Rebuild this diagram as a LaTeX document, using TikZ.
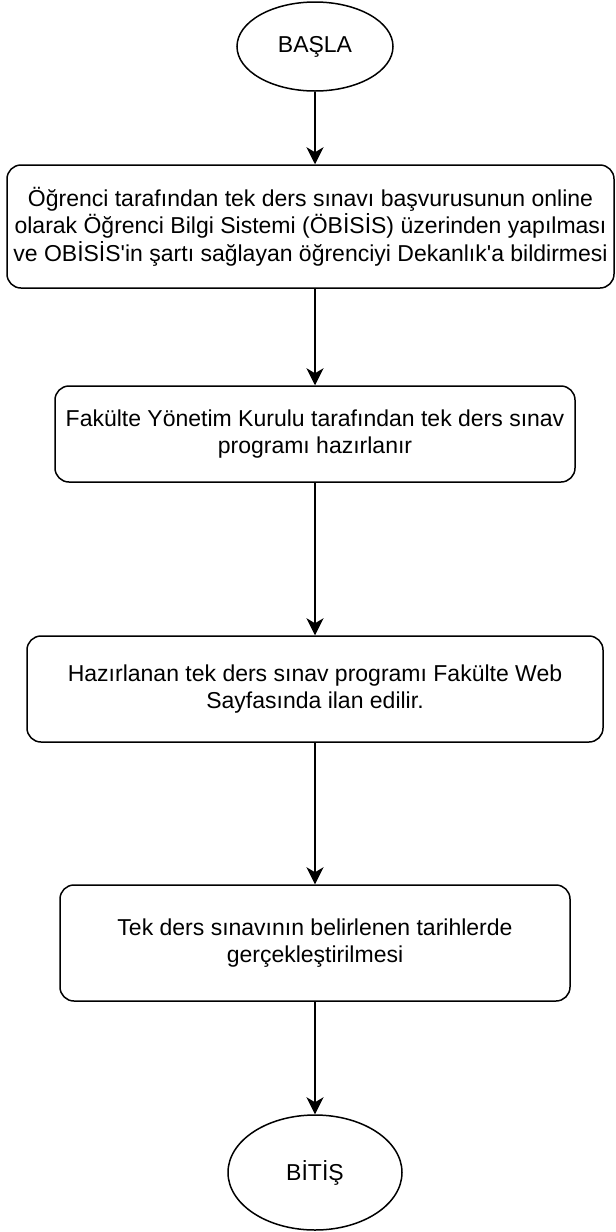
\documentclass[tikz,border=0pt]{standalone}
\usepackage{fontspec}
\setmainfont{Liberation Sans}
\usepackage{tikz}
\usetikzlibrary{arrows.meta,shapes,calc}
\tikzstyle{term}=[ellipse, draw, line width=1.5pt,% start and end
inner sep=0pt, font=\fontsize{23}{27.5}\selectfont]
\tikzstyle{islem}=[rectangle, draw, rounded corners=14pt, line width=1.5pt,% a step box
align=center, inner sep=0pt, font=\fontsize{23}{27.5}\selectfont]
\tikzstyle{akis}=[-{Stealth[length=17pt,width=17pt,inset=5pt]}, line width=1.5pt]

\begin{document}
\begin{tikzpicture}[x=1pt,y=-1pt]
\useasboundingbox (0,0) rectangle (616,1232);
\node[term, minimum width=156pt, minimum height=89pt] (bas) at (315,46.5) {BAŞLA};
\node[islem, minimum width=607pt, minimum height=123pt] (a1) at (310.5,226.5) {Öğrenci tarafından tek ders sınavı başvurusunun online\\olarak Öğrenci Bilgi Sistemi (ÖBİSİS) üzerinden yapılması\\ve OBİSİS\textquotesingle in şartı sağlayan öğrenciyi Dekanlık\textquotesingle a bildirmesi};
\node[islem, minimum width=520pt, minimum height=96pt] (a2) at (315,434) {Fakülte Yönetim Kurulu tarafından tek ders sınav\\programı hazırlanır};
\node[islem, minimum width=576pt, minimum height=106pt] (a3) at (315,689) {Hazırlanan tek ders sınav programı Fakülte Web\\Sayfasında ilan edilir.};
\node[islem, minimum width=510pt, minimum height=116pt] (a4) at (315,943) {Tek ders sınavının belirlenen tarihlerde\\gerçekleştirilmesi};
\node[term, minimum width=174pt, minimum height=115pt] (bit) at (315,1172.5) {BİTİŞ};
\draw [akis] (bas) -- (bas |- a1.north);
\draw [akis] (bas |- a1.south) -- (a2);
\draw [akis] (a2) -- (a3);
\draw [akis] (a3) -- (a4);
\draw [akis] (a4) -- (bit);
\end{tikzpicture}
\end{document}
